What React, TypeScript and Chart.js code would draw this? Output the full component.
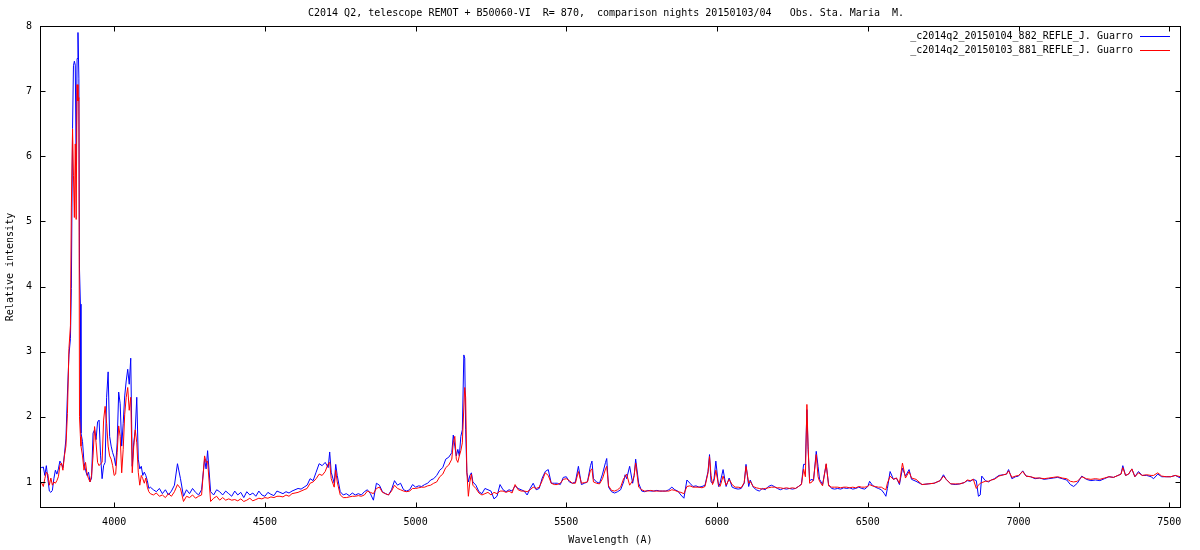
import React, { useEffect, useRef } from "react";
import { Chart, registerables } from "chart.js";

Chart.register(...registerables);

const FONT_FAMILY = "'DejaVu Sans Mono', monospace";

const chartTitle =
  "C2014 Q2, telescope REMOT + B50060-VI  R= 870,  comparison nights 20150103/04   Obs. Sta. Maria  M.";
const xAxisTitle = "Wavelength (A)";
const yAxisTitle = "Relative intensity";
const seriesNames = [
  "_c2014q2_20150104_882_REFLE_J. Guarro",
  "_c2014q2_20150103_881_REFLE_J. Guarro",
];

const xTickValues = [4000, 4500, 5000, 5500, 6000, 6500, 7000, 7500];
const yTickValues = [1, 2, 3, 4, 5, 6, 7, 8];

const wavelengths = [
  3755, 3760, 3765, 3770, 3775, 3780, 3785, 3790, 3795, 3800,
  3805, 3810, 3815, 3820, 3825, 3830, 3835, 3840, 3845, 3850,
  3855, 3858, 3862, 3865, 3868, 3871, 3874, 3877, 3880, 3883, 3885, 3888,
  3890, 3895, 3900, 3905, 3910, 3915, 3920, 3925, 3930, 3935,
  3940, 3945, 3950, 3955, 3960, 3965, 3970, 3975, 3980, 3985,
  3990, 3995, 4000, 4005, 4010, 4015, 4020, 4025, 4030, 4035,
  4040, 4045, 4050, 4055, 4060, 4065, 4070, 4075, 4080, 4085,
  4090, 4095, 4100, 4105, 4110, 4115, 4120, 4130, 4140, 4150,
  4160, 4170, 4180, 4190, 4200, 4210, 4220, 4230, 4240, 4250,
  4260, 4270, 4280, 4290, 4300, 4305, 4310, 4320, 4330, 4340,
  4350, 4360, 4370, 4380, 4390, 4400, 4410, 4420, 4430, 4440,
  4450, 4460, 4470, 4480, 4490, 4500, 4510, 4520, 4530, 4540,
  4550, 4560, 4570, 4580, 4590, 4600, 4610, 4620, 4630, 4640,
  4650, 4660, 4670, 4680, 4690, 4700, 4710, 4715, 4720, 4730,
  4735, 4740, 4750, 4760, 4770, 4780, 4790, 4800, 4810, 4820,
  4830, 4840, 4850, 4860, 4870, 4880, 4890, 4900, 4910, 4920,
  4930, 4940, 4950, 4960, 4970, 4980, 4990, 5000, 5010, 5020,
  5030, 5040, 5050, 5060, 5070, 5080, 5090, 5100, 5110, 5120,
  5125, 5130, 5135, 5140, 5145, 5150, 5155, 5160, 5163, 5166,
  5170, 5175, 5180, 5185, 5190, 5200, 5210, 5220, 5230, 5240,
  5250, 5260, 5270, 5280, 5290, 5300, 5310, 5320, 5330, 5340,
  5350, 5360, 5370, 5380, 5390, 5400, 5410, 5420, 5430, 5440,
  5450, 5460, 5470, 5480, 5490, 5500, 5510, 5520, 5530, 5540,
  5550, 5560, 5570, 5580, 5585, 5590, 5600, 5610, 5620, 5630,
  5634, 5640, 5650, 5660, 5670, 5680, 5690, 5695, 5700, 5710,
  5720, 5725, 5730, 5740, 5750, 5760, 5770, 5780, 5790, 5800,
  5810, 5820, 5830, 5840, 5850, 5860, 5870, 5880, 5890, 5900,
  5910, 5920, 5930, 5940, 5950, 5960, 5970, 5975, 5980, 5985,
  5990, 5996, 6005, 6010, 6020, 6030, 6040, 6050, 6060, 6070,
  6080, 6090, 6096, 6105, 6110, 6120, 6130, 6140, 6150, 6160,
  6170, 6180, 6190, 6200, 6210, 6220, 6230, 6240, 6250, 6260,
  6270, 6280, 6287, 6293, 6298, 6302, 6307, 6315, 6320, 6329,
  6335, 6340, 6350, 6362, 6370, 6380, 6390, 6400, 6410, 6420,
  6430, 6440, 6450, 6460, 6470, 6480, 6490, 6500, 6506, 6515,
  6525, 6535, 6545, 6555, 6560, 6565, 6574, 6585, 6595, 6605,
  6615, 6625, 6637, 6645, 6660, 6680, 6700, 6720, 6740, 6751,
  6760, 6775, 6790, 6805, 6820, 6830, 6840, 6850, 6860, 6867,
  6873, 6878, 6890, 6900, 6910, 6920, 6935, 6950, 6960, 6967,
  6978, 6990, 7000, 7014, 7025, 7040, 7055, 7070, 7085, 7100,
  7115, 7130, 7145, 7160, 7172, 7183, 7195, 7210, 7225, 7240,
  7255, 7270, 7285, 7300, 7315, 7330, 7340, 7346, 7355, 7365,
  7376, 7386, 7398, 7410, 7425, 7440, 7448, 7462, 7475, 7490,
  7505, 7520, 7537,
];

// _c2014q2_20150104_882 (blue)
const blueIntensity = [
  1.23, 1.22, 1.23, 1.10, 1.25, 1.05, 0.86, 0.84, 0.87, 1.05,
  1.18, 1.12, 1.20, 1.32, 1.28, 1.22, 1.42, 1.66, 2.35, 2.95,
  3.20, 3.97, 6.43, 7.39, 7.46, 7.40, 5.86, 7.50, 7.90, 7.20, 4.27, 3.73,
  1.75, 1.62, 1.30, 1.18, 1.10, 1.15, 1.00, 1.06, 1.75, 1.80,
  1.65, 1.92, 1.95, 1.40, 1.05, 1.25, 1.30, 2.30, 2.69, 1.70,
  1.55, 1.45, 1.38, 1.25, 1.60, 2.38, 2.20, 1.55, 1.90, 2.32,
  2.55, 2.73, 2.50, 2.90, 1.24, 1.60, 1.80, 2.30, 1.35, 1.20,
  1.24, 1.10, 1.15, 1.10, 1.02, 0.90, 0.92, 0.88, 0.85, 0.90,
  0.82, 0.88, 0.80, 0.86, 0.95, 1.28, 1.05, 0.78, 0.88, 0.82,
  0.90, 0.84, 0.80, 0.88, 1.35, 1.20, 1.48, 0.85, 0.80, 0.88,
  0.85, 0.80, 0.86, 0.82, 0.78, 0.86, 0.80, 0.84, 0.76, 0.85,
  0.80, 0.83, 0.78, 0.86, 0.80, 0.78, 0.84, 0.81, 0.79, 0.86,
  0.84, 0.82, 0.85, 0.83, 0.86, 0.88, 0.90, 0.89, 0.92, 0.95,
  1.05, 1.02, 1.15, 1.28, 1.25, 1.30, 1.22, 1.46, 1.15, 0.98,
  1.27, 1.10, 0.85, 0.80, 0.82, 0.79, 0.83, 0.80, 0.82, 0.80,
  0.85, 0.88, 0.82, 0.72, 0.98, 0.95, 0.85, 0.82, 0.80, 0.88,
  1.02, 0.95, 0.98, 0.88, 0.86, 0.88, 0.96, 0.92, 0.94, 0.93,
  0.96, 0.98, 1.03, 1.05, 1.10, 1.18, 1.22, 1.35, 1.38, 1.45,
  1.72, 1.55, 1.40, 1.50, 1.40, 1.70, 1.80, 2.95, 2.90, 1.80,
  1.15, 1.00, 1.10, 1.14, 1.00, 0.95, 0.85, 0.82, 0.90, 0.88,
  0.86, 0.74, 0.78, 0.96, 0.88, 0.85, 0.88, 0.86, 0.94, 0.90,
  0.88, 0.86, 0.80, 0.90, 0.98, 0.88, 0.90, 1.06, 1.16, 1.19,
  0.98, 0.98, 0.98, 0.96, 1.07, 1.08, 1.00, 0.98, 1.00, 1.24,
  0.96, 0.98, 1.00, 1.25, 1.32, 1.05, 1.00, 0.98, 1.12, 1.30,
  1.36, 0.92, 0.85, 0.83, 0.85, 0.88, 1.00, 1.11, 1.05, 1.24,
  0.98, 1.10, 1.35, 0.98, 0.86, 0.85, 0.87, 0.86, 0.86, 0.87,
  0.86, 0.86, 0.86, 0.88, 0.92, 0.88, 0.86, 0.80, 0.75, 1.03,
  0.98, 0.93, 0.94, 0.92, 0.93, 0.95, 1.16, 1.42, 1.00, 0.98,
  1.05, 1.32, 0.93, 0.98, 1.19, 0.93, 1.06, 0.92, 0.90, 0.89,
  0.90, 0.98, 1.27, 0.93, 1.03, 0.92, 0.88, 0.86, 0.90, 0.88,
  0.93, 0.95, 0.93, 0.90, 0.88, 0.90, 0.89, 0.90, 0.89, 0.90,
  0.93, 0.97, 1.27, 1.27, 2.11, 1.50, 1.02, 1.04, 1.02, 1.47,
  1.24, 1.04, 0.96, 1.27, 0.96, 0.90, 0.89, 0.90, 0.89, 0.91,
  0.90, 0.91, 0.89, 0.90, 0.92, 0.90, 0.89, 0.93, 1.01, 0.95,
  0.92, 0.90, 0.88, 0.82, 0.78, 0.90, 1.16, 1.04, 1.06, 0.96,
  1.21, 1.09, 1.19, 1.04, 1.01, 0.96, 0.97, 0.98, 1.02, 1.11,
  1.04, 0.97, 0.96, 0.97, 0.99, 1.02, 1.01, 1.04, 1.02, 0.78,
  0.80, 1.09, 1.02, 1.00, 1.03, 1.05, 1.10, 1.11, 1.12, 1.19,
  1.05, 1.08, 1.09, 1.17, 1.09, 1.08, 1.05, 1.06, 1.04, 1.05,
  1.06, 1.07, 1.05, 1.03, 0.96, 0.93, 0.98, 1.09, 1.04, 1.02,
  1.03, 1.02, 1.05, 1.08, 1.07, 1.10, 1.12, 1.25, 1.10, 1.12,
  1.20, 1.08, 1.16, 1.10, 1.10, 1.08, 1.05, 1.12, 1.08, 1.08,
  1.08, 1.10, 1.06,
];

// _c2014q2_20150103_881 (red)
const redIntensity = [
  1.00, 0.98, 0.93, 1.05, 1.15, 1.12, 0.95, 1.06, 0.95, 1.00,
  0.98, 1.02, 1.08, 1.25, 1.29, 1.18, 1.40, 1.55, 2.05, 3.05,
  3.40, 5.22, 6.42, 5.71, 5.06, 6.19, 5.03, 7.10, 6.85, 6.90, 2.00, 1.70,
  1.55, 1.40, 1.18, 1.30, 1.12, 1.05, 1.00, 1.10, 1.40, 1.85,
  1.60, 1.30, 1.25, 1.28, 1.30, 1.95, 2.16, 1.90, 1.55, 1.40,
  1.35, 1.25, 1.10, 1.12, 1.45, 1.86, 1.70, 1.14, 1.50, 2.04,
  2.30, 2.45, 2.10, 2.30, 1.14, 1.55, 1.80, 1.60, 1.15, 0.95,
  1.10, 1.05, 0.98, 1.06, 0.92, 0.85, 0.82, 0.80, 0.83, 0.78,
  0.80, 0.76, 0.82, 0.78, 0.85, 0.96, 0.90, 0.70, 0.78, 0.76,
  0.80, 0.75, 0.78, 0.80, 1.40, 1.30, 1.32, 0.70, 0.75, 0.78,
  0.72, 0.76, 0.72, 0.74, 0.72, 0.73, 0.71, 0.74, 0.70, 0.72,
  0.75, 0.71, 0.73, 0.75, 0.74, 0.76, 0.75, 0.77, 0.76, 0.78,
  0.78, 0.77, 0.80, 0.78, 0.82, 0.83, 0.84, 0.86, 0.88, 0.90,
  0.98, 1.00, 1.05, 1.12, 1.10, 1.16, 1.28, 1.30, 1.05, 0.92,
  1.18, 1.00, 0.80, 0.76, 0.76, 0.77, 0.78, 0.78, 0.79, 0.78,
  0.80, 0.86, 0.84, 0.82, 0.90, 0.92, 0.84, 0.82, 0.80, 0.86,
  0.95, 0.90, 0.88, 0.86, 0.85, 0.86, 0.90, 0.90, 0.91, 0.92,
  0.92, 0.94, 0.95, 0.98, 1.00, 1.08, 1.12, 1.22, 1.26, 1.35,
  1.60, 1.70, 1.35, 1.30, 1.40, 1.48, 1.60, 2.15, 2.45, 2.30,
  1.15, 0.78, 1.00, 1.12, 0.95, 0.90, 0.83, 0.80, 0.82, 0.84,
  0.80, 0.84, 0.82, 0.86, 0.86, 0.84, 0.86, 0.83, 0.96, 0.88,
  0.86, 0.86, 0.85, 0.88, 0.92, 0.90, 0.92, 1.02, 1.14, 1.10,
  0.98, 0.96, 0.96, 0.98, 1.04, 1.05, 1.02, 0.98, 0.98, 1.16,
  0.98, 0.99, 1.00, 1.18, 1.20, 1.00, 0.98, 0.97, 1.05, 1.20,
  1.24, 0.94, 0.87, 0.86, 0.88, 0.92, 1.05, 1.08, 1.12, 0.95,
  1.02, 1.10, 1.29, 0.92, 0.88, 0.86, 0.86, 0.87, 0.86, 0.86,
  0.86, 0.86, 0.86, 0.86, 0.88, 0.87, 0.85, 0.84, 0.82, 0.93,
  0.94, 0.92, 0.92, 0.92, 0.91, 0.93, 1.14, 1.39, 1.10, 0.96,
  1.02, 1.18, 0.95, 0.93, 1.09, 0.95, 1.04, 0.96, 0.92, 0.92,
  0.91, 0.99, 1.24, 0.98, 1.01, 0.93, 0.91, 0.90, 0.89, 0.90,
  0.91, 0.92, 0.92, 0.91, 0.91, 0.90, 0.91, 0.90, 0.91, 0.90,
  0.93, 0.96, 1.20, 1.08, 2.19, 1.55, 0.98, 1.00, 1.04, 1.42,
  1.08, 1.01, 0.94, 1.28, 0.94, 0.92, 0.92, 0.92, 0.91, 0.92,
  0.92, 0.91, 0.92, 0.91, 0.93, 0.92, 0.92, 0.93, 0.96, 0.94,
  0.93, 0.92, 0.92, 0.89, 0.88, 0.98, 1.09, 1.04, 1.06, 0.98,
  1.29, 1.06, 1.16, 1.06, 1.04, 0.96, 0.97, 0.98, 1.02, 1.09,
  1.04, 0.97, 0.97, 0.97, 0.99, 1.03, 1.02, 1.04, 0.90, 0.95,
  0.98, 0.99, 1.01, 1.01, 1.03, 1.04, 1.09, 1.11, 1.12, 1.17,
  1.07, 1.09, 1.10, 1.16, 1.09, 1.08, 1.06, 1.06, 1.05, 1.06,
  1.07, 1.08, 1.06, 1.05, 1.01, 1.00, 1.01, 1.08, 1.05, 1.04,
  1.05, 1.04, 1.06, 1.08, 1.07, 1.10, 1.12, 1.22, 1.10, 1.12,
  1.20, 1.08, 1.14, 1.10, 1.11, 1.10, 1.10, 1.14, 1.09, 1.08,
  1.08, 1.10, 1.08,
];

const seriesColors = ["#0000ff", "#ff0000"];

const framePlugin = {
  id: "gnuplotFrame",
  afterDatasetsDraw(chart: any) {
    const { ctx, chartArea } = chart;
    const { left, right, top, bottom } = chartArea;
    const xs = chart.scales.x;
    const ys = chart.scales.y;
    const tick = 5;
    ctx.save();
    ctx.strokeStyle = "#000";
    ctx.lineWidth = 1;
    ctx.beginPath();
    const L = Math.round(left) + 0.5;
    const R = Math.round(right) - 0.5;
    const T = Math.round(top) + 0.5;
    const B = Math.round(bottom) - 0.5;
    for (const v of xTickValues) {
      const px = Math.round(xs.getPixelForValue(v)) + 0.5;
      ctx.moveTo(px, B);
      ctx.lineTo(px, B - tick);
      ctx.moveTo(px, T);
      ctx.lineTo(px, T + tick);
    }
    for (const v of yTickValues) {
      const py = Math.round(ys.getPixelForValue(v)) + 0.5;
      ctx.moveTo(L, py);
      ctx.lineTo(L + tick, py);
      ctx.moveTo(R, py);
      ctx.lineTo(R - tick, py);
    }
    ctx.stroke();
    ctx.strokeRect(L, T, R - L, B - T);

    // title
    ctx.fillStyle = "#000";
    ctx.font = `10px ${FONT_FAMILY}`;
    ctx.textBaseline = "middle";
    ctx.textAlign = "center";
    ctx.fillText(chartTitle, 606, 13);

    // legend (inside, top-right)
    ctx.textAlign = "right";
    seriesNames.forEach((name, i) => {
      const y = 36 + i * 14;
      ctx.fillStyle = "#000";
      ctx.fillText(name, 1133, y);
      ctx.strokeStyle = seriesColors[i];
      ctx.beginPath();
      ctx.moveTo(1140, Math.round(y) + 0.5);
      ctx.lineTo(1170, Math.round(y) + 0.5);
      ctx.stroke();
    });
    ctx.restore();
  },
};

export default function App() {
  const canvasRef = useRef<HTMLCanvasElement | null>(null);

  useEffect(() => {
    const canvas = canvasRef.current;
    if (!canvas) return;
    const font = { family: FONT_FAMILY, size: 10 };
    const blueData = wavelengths.map((w, i) => ({ x: w, y: blueIntensity[i] }));
    const redData = wavelengths.map((w, i) => ({ x: w, y: redIntensity[i] }));
    const chart = new Chart(canvas, {
      type: "line",
      data: {
        datasets: [
          {
            label: seriesNames[0],
            data: blueData,
            borderColor: seriesColors[0],
            backgroundColor: seriesColors[0],
            borderWidth: 1,
            pointRadius: 0,
            tension: 0,
            order: 2,
          },
          {
            label: seriesNames[1],
            data: redData,
            borderColor: seriesColors[1],
            backgroundColor: seriesColors[1],
            borderWidth: 1,
            pointRadius: 0,
            tension: 0,
            order: 1,
          },
        ],
      },
      options: {
        animation: false,
        responsive: false,
        devicePixelRatio: 1,
        layout: { padding: { top: 26, right: 19, left: 0, bottom: 0 } },
        plugins: {
          legend: { display: false },
          title: { display: false },
          tooltip: { enabled: false },
        },
        scales: {
          x: {
            type: "linear",
            min: 3754,
            max: 7539,
            grid: { display: false, drawTicks: false },
            border: { display: false },
            ticks: {
              font,
              color: "#000",
              padding: 8,
              autoSkip: false,
              maxRotation: 0,
              callback: (v: any) => String(v),
            },
            afterBuildTicks: (s: any) => {
              s.ticks = xTickValues.map((v) => ({ value: v }));
            },
            afterFit: (s: any) => {
              s.height = 42;
            },
            title: {
              display: true,
              text: xAxisTitle,
              font,
              color: "#000",
              padding: { top: 4, bottom: 4 },
            },
          },
          y: {
            type: "linear",
            min: 0.6,
            max: 8,
            grid: { display: false, drawTicks: false },
            border: { display: false },
            ticks: {
              font,
              color: "#000",
              padding: 8,
              autoSkip: false,
              callback: (v: any) => String(v),
            },
            afterBuildTicks: (s: any) => {
              s.ticks = yTickValues.map((v) => ({ value: v }));
            },
            afterFit: (s: any) => {
              s.width = 40;
            },
            title: {
              display: true,
              text: yAxisTitle,
              font,
              color: "#000",
              padding: { top: 4, bottom: 4 },
            },
          },
        },
      },
      plugins: [framePlugin],
    });
    return () => chart.destroy();
  }, []);

  return (
    <div
      style={{
        position: "absolute",
        left: 0,
        top: 0,
        width: 1200,
        height: 550,
        background: "#fff",
      }}
    >
      <canvas
        ref={canvasRef}
        width={1200}
        height={550}
        style={{ display: "block", width: 1200, height: 550 }}
      />
    </div>
  );
}
